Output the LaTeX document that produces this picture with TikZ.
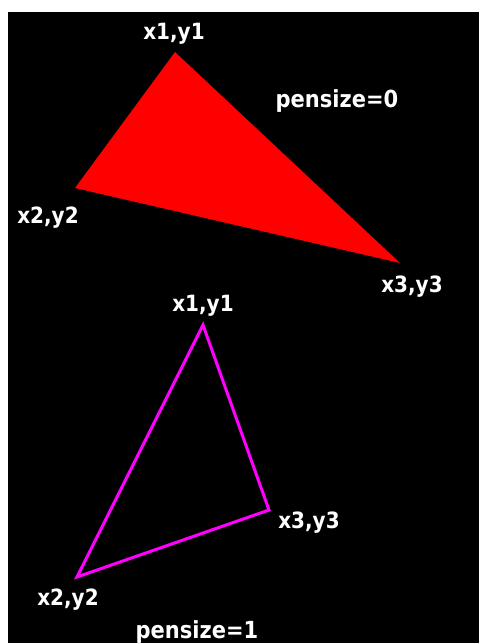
\documentclass[tikz,border=0pt]{standalone}
\usepackage{fontspec}
\setmainfont{DejaVu Sans}
\usetikzlibrary{calc}
\definecolor{penmagenta}{RGB}{255,0,255}
\definecolor{fillred}{RGB}{255,0,0}

\begin{document}
\begin{tikzpicture}[x=1pt, y=-1pt,
  vlabel/.style={text=white, inner sep=0pt, anchor=base, yscale=1.12, font=\bfseries\fontsize{20}{20}\selectfont},
  penlabel/.style={vlabel, font=\bfseries\fontsize{21}{21}\selectfont}]
  \useasboundingbox (0,0) rectangle (479,643);
  \fill[white] (0,0) rectangle (479,643);
  \fill[black] (8,12) rectangle (479,643);

  % filled triangle
  \coordinate (r1) at (175,52);
  \coordinate (r2) at (75,188);
  \coordinate (r3) at (400,263);
  \fill[fillred] (r1) -- (r2) -- (r3) -- cycle;
  \node[vlabel] (r1l) at (174,39) {x1,y1};
  \node[vlabel] (r2l) at (48,223) {x2,y2};
  \node[vlabel] (r3l) at (412,292) {x3,y3};
  \node[penlabel] (p0) at (337,107) {pensize=0};

  % outlined triangle
  \coordinate (m1) at (203,325);
  \coordinate (m2) at (77,577);
  \coordinate (m3) at (269,510);
  \draw[penmagenta, line width=3pt, line join=miter] (m1) -- (m2) -- (m3) -- cycle;
  \node[vlabel] (m1l) at (203,311) {x1,y1};
  \node[vlabel] (m2l) at (68,605) {x2,y2};
  \node[vlabel] (m3l) at (309,528) {x3,y3};
  \node[penlabel] (p1) at (197,638) {pensize=1};
\end{tikzpicture}
\end{document}
